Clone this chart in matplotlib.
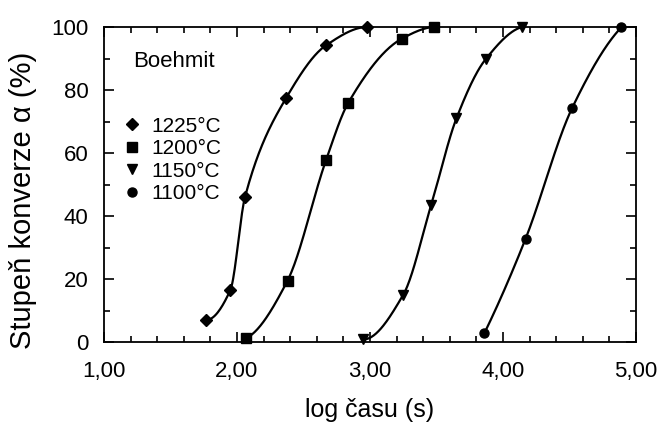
import numpy as np
import matplotlib
matplotlib.use("Agg")
import matplotlib.pyplot as plt
from matplotlib.lines import Line2D
from matplotlib.ticker import MultipleLocator, FixedLocator, FixedFormatter

plt.rcParams['font.family'] = ['Liberation Sans', 'DejaVu Sans']

labels = ["1225°C", "1200°C", "1150°C", "1100°C"]
markers = ["D", "s", "v", "o"]

x1225 = [1.77, 1.95, 2.06, 2.37, 2.67, 2.98]
y1225 = [7.0, 16.5, 46.0, 77.5, 94.2, 100.0]
x1200 = [2.07, 2.38, 2.67, 2.835, 3.24, 3.48]
y1200 = [1.2, 19.5, 57.8, 75.8, 96.3, 100.0]
x1150 = [2.95, 3.25, 3.46, 3.65, 3.87, 4.145]
y1150 = [0.8, 15.0, 43.5, 71.0, 89.8, 100.0]
x1100 = [3.86, 4.17, 4.52, 4.89]
y1100 = [2.8, 32.8, 74.3, 99.9]

series_x = [x1225, x1200, x1150, x1100]
series_y = [y1225, y1200, y1150, y1100]

xticks = [1, 2, 3, 4, 5]
xticklabels = ["1,00", "2,00", "3,00", "4,00", "5,00"]
yticks = [0, 20, 40, 60, 80, 100]


def pchip(x, y, n=200):
    x = np.asarray(x, float)
    y = np.asarray(y, float)
    h = np.diff(x)
    d = np.diff(y) / h
    m = np.zeros_like(y)
    for k in range(1, len(x) - 1):
        if d[k - 1] * d[k] > 0:
            w1 = 2 * h[k] + h[k - 1]
            w2 = h[k] + 2 * h[k - 1]
            m[k] = (w1 + w2) / (w1 / d[k - 1] + w2 / d[k])
    m[0] = ((2 * h[0] + h[1]) * d[0] - h[0] * d[1]) / (h[0] + h[1]) if len(x) > 2 else d[0]
    if np.sign(m[0]) != np.sign(d[0]):
        m[0] = 0
    m[-1] = ((2 * h[-1] + h[-2]) * d[-1] - h[-1] * d[-2]) / (h[-1] + h[-2]) if len(x) > 2 else d[-1]
    if np.sign(m[-1]) != np.sign(d[-1]):
        m[-1] = 0
    xs = np.linspace(x[0], x[-1], n)
    idx = np.clip(np.searchsorted(x, xs) - 1, 0, len(x) - 2)
    t = (xs - x[idx]) / h[idx]
    h00 = 2 * t**3 - 3 * t**2 + 1
    h10 = t**3 - 2 * t**2 + t
    h01 = -2 * t**3 + 3 * t**2
    h11 = t**3 - t**2
    ys = h00 * y[idx] + h10 * h[idx] * m[idx] + h01 * y[idx + 1] + h11 * h[idx] * m[idx + 1]
    return xs, ys


fig = plt.figure(figsize=(6.59, 4.23), dpi=100)
ax = fig.add_axes([104 / 659, 1 - 342 / 423, 532 / 659, 315 / 423])

for xs_, ys_, mk in zip(series_x, series_y, markers):
    cx, cy = pchip(xs_, ys_)
    ax.plot(cx, cy, color='black', lw=1.6, zorder=2, clip_on=False)
    ax.plot(xs_, ys_, linestyle='none', marker=mk, color='black', ms=6.5, zorder=3, clip_on=False)

ax.set_xlim(1, 5)
ax.set_ylim(0, 100)
ax.xaxis.set_major_locator(FixedLocator(xticks))
ax.xaxis.set_major_formatter(FixedFormatter(xticklabels))
ax.xaxis.set_minor_locator(MultipleLocator(0.2))
ax.yaxis.set_major_locator(FixedLocator(yticks))
ax.yaxis.set_minor_locator(MultipleLocator(10))
ax.tick_params(which='both', direction='in', top=True, right=True, labelsize=16, width=1.2)
ax.tick_params(which='major', length=7)
ax.tick_params(which='minor', length=4)
ax.tick_params(axis='x', which='major', pad=14)
ax.tick_params(axis='y', which='major', pad=11)
for s in ax.spines.values():
    s.set_linewidth(1.3)

ax.set_xlabel("log času (s)", fontsize=18)
ax.set_ylabel("Stupeň konverze α (%)", fontsize=21)
ax.xaxis.set_label_coords(0.5, -0.178)
ax.yaxis.set_label_coords(-67 / 532, 0.45)

ax.text(0.0545, 0.892, "Boehmit", transform=ax.transAxes, fontsize=16, va='center', ha='left')

handles = [Line2D([], [], linestyle='none', marker=mk, color='black', ms=6.5) for mk in markers]
ax.legend(handles, labels, loc='upper left', bbox_to_anchor=(0.015, 0.729), frameon=False,
          fontsize=15, handletextpad=0.2, labelspacing=0.17, handlelength=1.5, borderpad=0.2,
          borderaxespad=0.0)

fig.savefig("out.png", dpi=100)
